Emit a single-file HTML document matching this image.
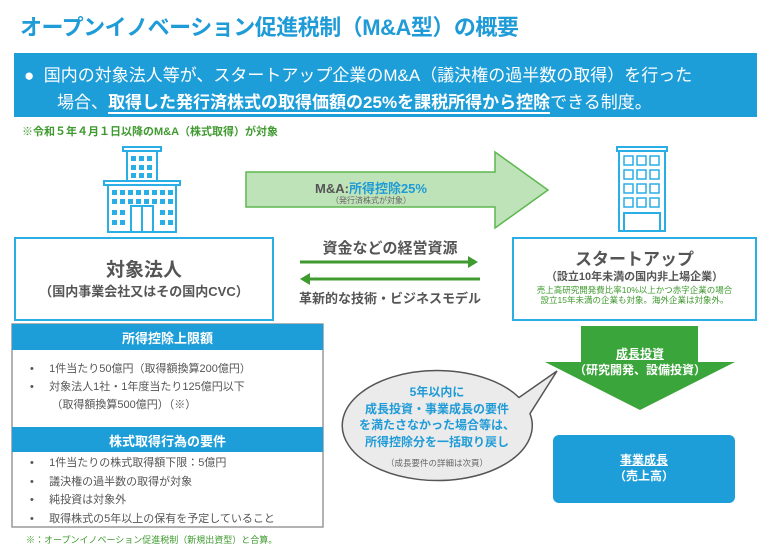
<!DOCTYPE html>
<html><head><meta charset="utf-8"><style>
body{margin:0;width:768px;height:555px;background:#fff;position:relative;overflow:hidden;font-family:"Liberation Sans","Noto Sans CJK JP",sans-serif;}
.a{position:absolute;white-space:nowrap;}
.c{text-align:center;}
</style></head><body>
<div class="a" style="left:20px;top:10px;font-size:22px;font-weight:bold;color:#1f9bd7;letter-spacing:-0.5px">オープンイノベーション促進税制（M&amp;A型）の概要</div>
<div class="a" style="left:14px;top:53px;width:743px;height:64px;background:#1e9ed9;"></div>
<div class="a" style="left:24px;top:62px;font-size:17px;color:#fff;line-height:27px">●&nbsp;&nbsp;国内の対象法人等が、スタートアップ企業のM&amp;A（議決権の過半数の取得）を行った<br>&nbsp;&nbsp;&nbsp;&nbsp;&nbsp;&nbsp;&nbsp;場合、<b style="border-bottom:2px solid #fff">取得した発行済株式の取得価額の25%を課税所得から控除</b>できる制度。</div>
<div class="a" style="left:22px;top:123px;font-size:11px;font-weight:bold;color:#3f9a2f">※令和５年４月１日以降のM&amp;A（株式取得）が対象</div>

<svg class="a" style="left:0;top:0" width="768" height="555">
<g fill="none" stroke="#29aee6" stroke-width="2">
<rect x="123" y="147" width="38" height="4"/><rect x="127" y="151" width="30" height="30"/>
<rect x="104" y="181" width="76" height="4"/><rect x="108" y="185" width="68" height="47"/>
<rect x="131" y="206" width="22" height="26"/><line x1="142" y1="206" x2="142" y2="232"/>
<rect x="617" y="147" width="50" height="4"/><rect x="619" y="151" width="46" height="80"/>
<rect x="624" y="213" width="36" height="18"/>
</g>
<g fill="#29aee6">
<rect x="131" y="156" width="5" height="5"/><rect x="139" y="156" width="5" height="5"/><rect x="147" y="156" width="5" height="5"/>
<rect x="131" y="165" width="5" height="5"/><rect x="139" y="165" width="5" height="5"/><rect x="147" y="165" width="5" height="5"/>
<rect x="131" y="173" width="5" height="5"/><rect x="139" y="173" width="5" height="5"/><rect x="147" y="173" width="5" height="5"/>
<rect x="112" y="190" width="5" height="5"/><rect x="120" y="190" width="5" height="5"/><rect x="128" y="190" width="5" height="5"/><rect x="136" y="190" width="5" height="5"/><rect x="144" y="190" width="5" height="5"/><rect x="152" y="190" width="5" height="5"/><rect x="160" y="190" width="5" height="5"/><rect x="168" y="190" width="5" height="5"/>
<rect x="112" y="199" width="5" height="5"/><rect x="120" y="199" width="5" height="5"/><rect x="128" y="199" width="5" height="5"/><rect x="136" y="199" width="5" height="5"/><rect x="144" y="199" width="5" height="5"/><rect x="152" y="199" width="5" height="5"/><rect x="160" y="199" width="5" height="5"/><rect x="168" y="199" width="5" height="5"/>
<rect x="112" y="210" width="5" height="5"/><rect x="120" y="210" width="5" height="5"/><rect x="160" y="210" width="5" height="5"/><rect x="168" y="210" width="5" height="5"/>
<rect x="112" y="220" width="5" height="5"/><rect x="120" y="220" width="5" height="5"/><rect x="160" y="220" width="5" height="5"/><rect x="168" y="220" width="5" height="5"/>
</g>
<g fill="none" stroke="#29aee6" stroke-width="1.5">
<rect x="624" y="156" width="9" height="9"/><rect x="637" y="156" width="9" height="9"/><rect x="650" y="156" width="9" height="9"/>
<rect x="624" y="170" width="9" height="9"/><rect x="637" y="170" width="9" height="9"/><rect x="650" y="170" width="9" height="9"/>
<rect x="624" y="184" width="9" height="9"/><rect x="637" y="184" width="9" height="9"/><rect x="650" y="184" width="9" height="9"/>
<rect x="624" y="198" width="9" height="9"/><rect x="637" y="198" width="9" height="9"/><rect x="650" y="198" width="9" height="9"/>
</g>
<polygon points="246,172 495,172 495,152 548,190 495,228 495,207 246,207" fill="#bfe3b8" stroke="#5db84f" stroke-width="1.5"/>
<g stroke="#3f9a2f" stroke-width="3" fill="#3f9a2f">
<line x1="300" y1="262" x2="472" y2="262"/><polygon points="478,262 468,256 468,268" stroke-width="0"/>
<line x1="308" y1="279" x2="480" y2="279"/><polygon points="300,279 310,273 310,285" stroke-width="0"/>
</g>
<rect x="15" y="238" width="258" height="82" fill="none" stroke="#29aee6" stroke-width="2"/>
<rect x="513" y="238" width="243" height="82" fill="none" stroke="#29aee6" stroke-width="2"/>
<rect x="12" y="324" width="311" height="203" fill="none" stroke="#999" stroke-width="1.5"/>
<rect x="12" y="324" width="311" height="26" fill="#1e9ed9"/>
<rect x="12" y="427" width="311" height="25" fill="#1e9ed9"/>
<polygon points="581,326 698,326 698,362 735,362 640,410 545,362 581,362" fill="#3aa53a"/>
<rect x="553" y="435" width="182" height="68" rx="6" fill="#1e9ed9"/>
<path d="M519,397.5 L557,371 L530,413.6 A95,55 0 1 1 519,397.5 Z" fill="#ebebeb" stroke="#555" stroke-width="1.5"/>
</svg>

<div class="a c" style="left:246px;top:178px;width:250px;font-size:13px;font-weight:bold;color:#555">M&amp;A:<span style="color:#1f9bd7">所得控除25%</span></div>
<div class="a c" style="left:246px;top:195px;width:250px;font-size:8px;color:#666">（発行済株式が対象）</div>
<div class="a c" style="left:15px;top:255px;width:258px;font-size:19px;font-weight:bold;color:#555">対象法人</div>
<div class="a c" style="left:15px;top:281px;width:258px;font-size:13px;font-weight:bold;color:#555">（国内事業会社又はその国内CVC）</div>
<div class="a c" style="left:280px;top:237px;width:220px;font-size:15px;font-weight:bold;color:#555">資金などの経営資源</div>
<div class="a c" style="left:280px;top:288px;width:220px;font-size:13px;font-weight:bold;color:#555">革新的な技術・ビジネスモデル</div>
<div class="a c" style="left:513px;top:245px;width:243px;font-size:17px;font-weight:bold;color:#555">スタートアップ</div>
<div class="a c" style="left:513px;top:268px;width:243px;font-size:11px;font-weight:bold;color:#555">（設立10年未満の国内非上場企業）</div>
<div class="a c" style="left:513px;top:285px;width:243px;font-size:8.5px;color:#3f9a2f;line-height:10px">売上高研究開発費比率10%以上かつ赤字企業の場合<br>設立15年未満の企業も対象。海外企業は対象外。</div>

<div class="a c" style="left:12px;top:328px;width:311px;font-size:13px;font-weight:bold;color:#fff">所得控除上限額</div>
<div class="a" style="left:30px;top:360px;font-size:11px;color:#555;line-height:18px">•&nbsp;&nbsp;&nbsp;&nbsp;&nbsp;1件当たり50億円（取得額換算200億円）<br>•&nbsp;&nbsp;&nbsp;&nbsp;&nbsp;対象法人1社・1年度当たり125億円以下<br>&nbsp;&nbsp;&nbsp;&nbsp;&nbsp;&nbsp;&nbsp;（取得額換算500億円）（※）</div>
<div class="a c" style="left:12px;top:431px;width:311px;font-size:13px;font-weight:bold;color:#fff">株式取得行為の要件</div>
<div class="a" style="left:30px;top:454px;font-size:11px;color:#555;line-height:18.5px">•&nbsp;&nbsp;&nbsp;&nbsp;&nbsp;1件当たりの株式取得額下限：5億円<br>•&nbsp;&nbsp;&nbsp;&nbsp;&nbsp;議決権の過半数の取得が対象<br>•&nbsp;&nbsp;&nbsp;&nbsp;&nbsp;純投資は対象外<br>•&nbsp;&nbsp;&nbsp;&nbsp;&nbsp;取得株式の5年以上の保有を予定していること</div>
<div class="a" style="left:26px;top:533px;font-size:9px;color:#3f9a2f">※：オープンイノベーション促進税制（新規出資型）と合算。</div>

<div class="a c" style="left:560px;top:346px;width:160px;font-size:12px;font-weight:bold;color:#fff;line-height:16px"><u>成長投資</u><br>（研究開発、設備投資）</div>
<div class="a c" style="left:553px;top:452px;width:182px;font-size:12px;font-weight:bold;color:#fff;line-height:16px"><u>事業成長</u><br>（売上高）</div>
<div class="a c" style="left:342px;top:384px;width:190px;font-size:12px;font-weight:bold;color:#1f9bd7;line-height:16.5px">5年以内に<br>成長投資・事業成長の要件<br>を満たさなかった場合等は、<br>所得控除分を一括取り戻し</div>
<div class="a c" style="left:342px;top:457px;width:190px;font-size:8.5px;color:#666">（成長要件の詳細は次頁）</div>
</body></html>
